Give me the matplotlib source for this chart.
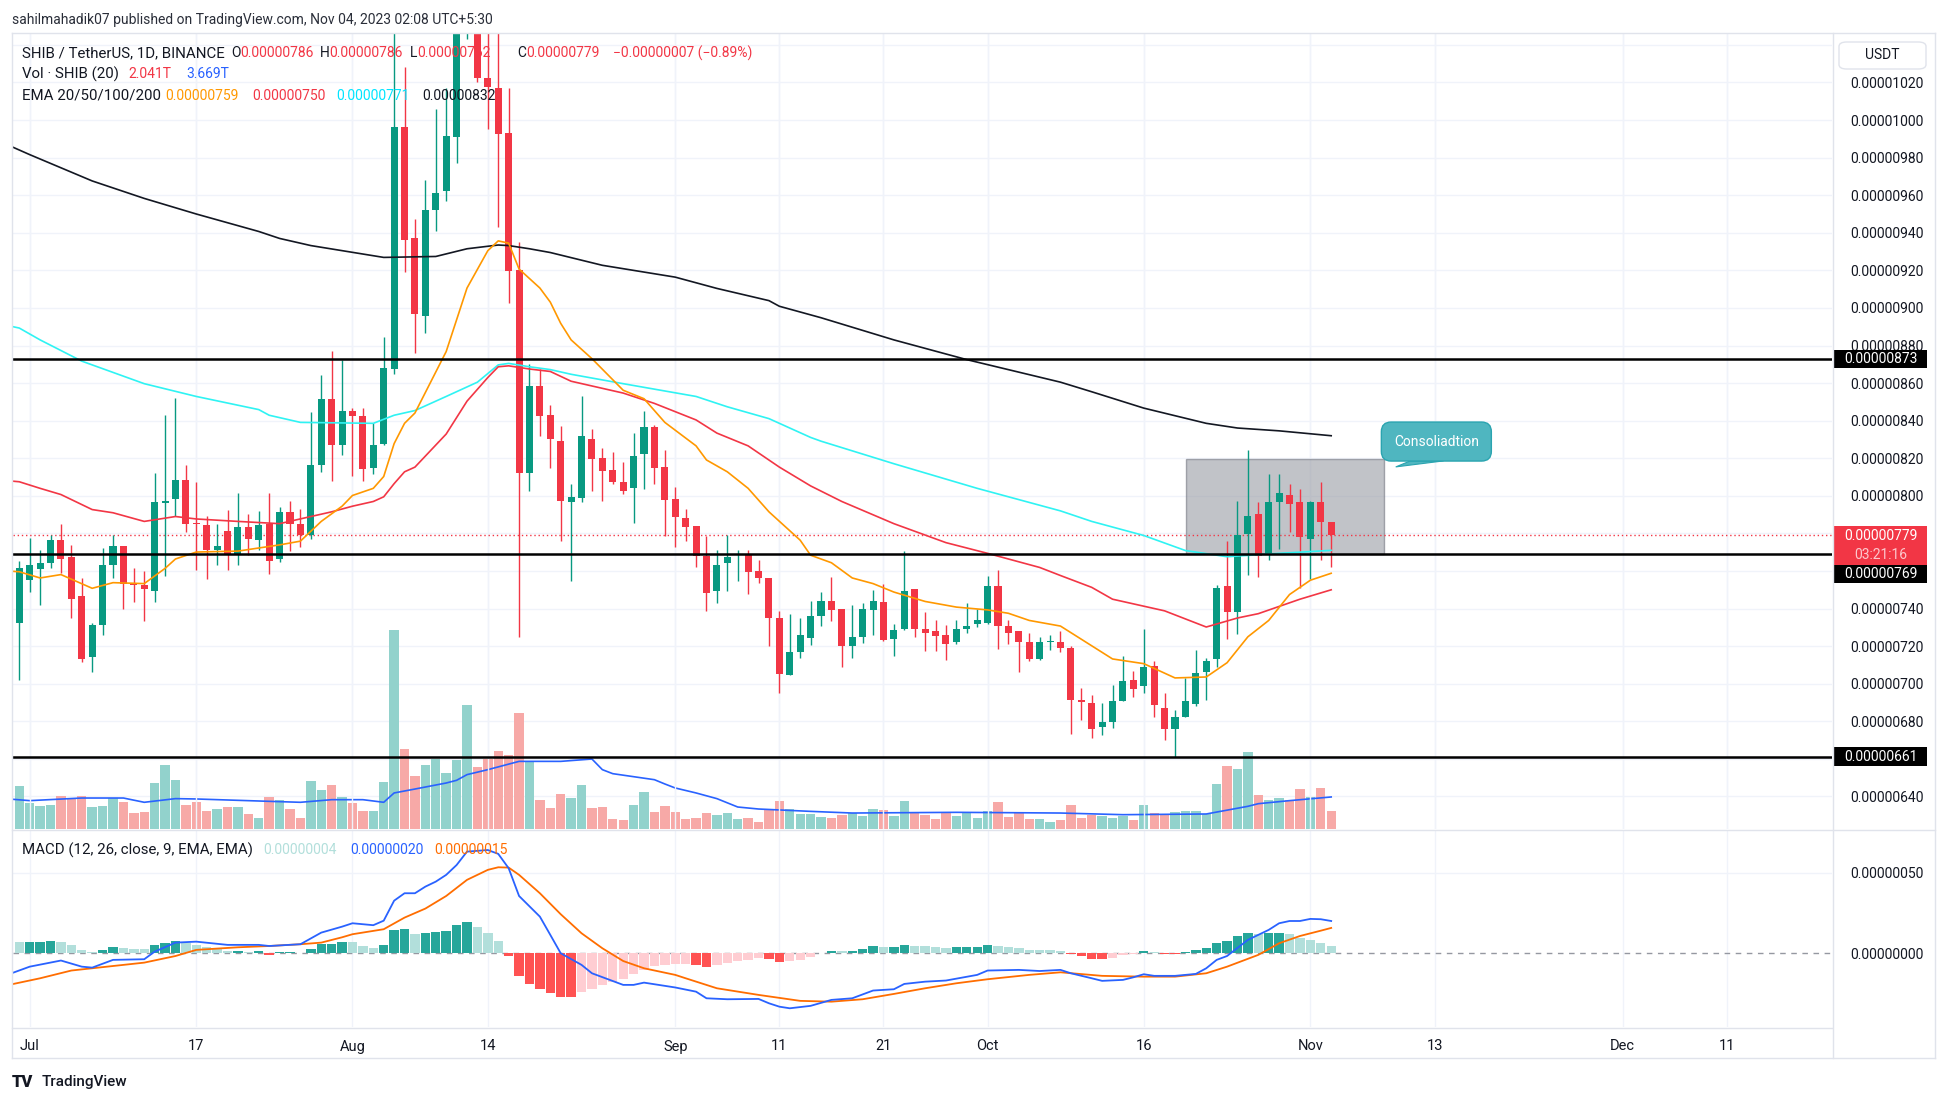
import matplotlib
matplotlib.use('Agg')
import matplotlib.pyplot as plt
import matplotlib.transforms as mtransforms
from matplotlib.patches import Rectangle, FancyBboxPatch, Polygon
from matplotlib.lines import Line2D
import numpy as np
import pandas as pd

plt.rcParams['font.family'] = ['Roboto', 'DejaVu Sans']

# ── Data (prices in units of 1e-8 USDT, volume in trillions) ────────────────
first_day = '2023-06-30'

opens = [732.2, 755.3, 761.0, 764.4, 776.4, 767.4, 746.5, 714.2, 731.2, 763.1,
         773.4, 753.3, 752.3, 749.3, 796.0, 798.2, 808.5, 785.4, 784.4, 771.4,
         781.4, 768.9, 783.4, 776.4, 784.9, 766.4, 791.5, 784.9, 779.4, 816.5,
         851.7, 827.1, 845.4, 842.6, 815.0, 827.6, 867.7, 996.2, 937.0, 895.8,
         952.0, 962.1, 991.2, 1062.0, 1090.0, 1022.3, 1017.3, 993.2, 920.4, 812.0,
         858.7, 842.9, 829.1, 796.5, 799.0, 830.1, 820.1, 813.5, 807.3, 804.0,
         822.1, 836.6, 815.5, 798.5, 788.4, 783.9, 768.1, 749.3, 764.4, 768.4,
         768.4, 759.8, 756.3, 735.0, 704.9, 716.7, 724.5, 736.3, 744.3, 739.8,
         720.2, 724.7, 739.3, 743.3, 724.0, 729.2, 750.6, 729.2, 728.2, 725.7,
         722.2, 729.2, 731.7, 732.5, 751.8, 730.5, 728.2, 722.2, 713.2, 722.0,
         722.2, 719.2, 691.1, 689.6, 677.0, 679.5, 690.6, 702.1, 698.6, 709.7,
         687.1, 676.0, 682.1, 689.1, 706.1, 713.2, 751.8, 738.0, 779.9, 790.5,
         768.9, 796.5, 800.5, 796.5, 776.9, 796.5, 786.0]
highs = [765.4, 777.4, 771.4, 779.4, 784.9, 773.9, 756.3, 732.5, 772.4, 779.4,
         773.4, 761.4, 760.1, 812.0, 843.0, 852.2, 816.5, 807.3, 789.5, 784.9,
         792.5, 801.5, 790.5, 792.0, 801.5, 794.0, 797.5, 793.0, 844.6, 864.2,
         877.3, 872.2, 846.7, 846.7, 838.6, 884.8, 1050.0, 1028.3, 947.5, 968.1,
         1005.7, 1017.3, 1075.0, 1110.0, 1130.0, 1050.0, 1048.0, 1016.8, 935.0, 870.2,
         867.7, 848.4, 837.1, 806.5, 853.4, 835.4, 825.6, 823.6, 817.8, 833.6,
         845.2, 837.6, 824.6, 804.5, 793.2, 783.9, 778.4, 771.4, 779.4, 771.4,
         771.4, 765.9, 756.3, 738.8, 737.3, 735.0, 744.3, 748.8, 756.8, 739.8,
         741.8, 742.8, 749.8, 753.3, 731.7, 770.4, 750.6, 738.3, 733.7, 731.2,
         733.7, 742.8, 739.8, 757.6, 760.6, 733.7, 728.2, 727.2, 724.7, 725.7,
         728.2, 720.2, 697.9, 694.1, 689.6, 699.6, 714.7, 706.6, 729.2, 712.2,
         695.1, 686.1, 703.1, 717.7, 713.7, 752.3, 775.9, 797.5, 824.6, 796.5,
         811.5, 811.5, 806.5, 803.5, 797.5, 807.5, 786.0]
lows = [702.1, 748.8, 742.0, 761.4, 758.8, 735.0, 711.7, 706.0, 726.2, 756.3,
        739.8, 743.3, 733.2, 743.3, 757.6, 789.5, 780.9, 760.3, 755.8, 763.4,
        760.3, 763.4, 768.4, 771.4, 758.3, 764.9, 770.4, 772.9, 776.9, 812.5,
        807.8, 821.6, 810.5, 807.8, 811.5, 827.1, 864.7, 919.4, 875.8, 886.8,
        941.0, 957.1, 977.0, 1043.0, 1020.0, 995.0, 943.0, 902.4, 725.0, 802.5,
        831.6, 815.0, 775.9, 754.6, 796.5, 802.5, 797.5, 806.5, 801.0, 785.4,
        803.5, 806.5, 778.4, 772.6, 775.9, 762.4, 738.8, 743.0, 749.6, 754.8,
        747.8, 753.8, 719.9, 694.9, 704.9, 713.7, 720.7, 730.7, 733.2, 708.7,
        713.7, 721.7, 726.2, 722.5, 714.9, 728.7, 725.0, 717.2, 717.2, 712.9,
        721.2, 727.2, 730.2, 732.0, 718.7, 721.2, 706.2, 712.2, 712.7, 718.2,
        716.7, 673.0, 680.6, 671.0, 672.5, 676.5, 690.6, 693.1, 694.9, 682.1,
        670.0, 661.0, 682.1, 688.1, 691.6, 708.7, 723.7, 726.7, 757.8, 756.8,
        765.9, 771.9, 780.9, 750.8, 755.8, 765.9, 762.0]
closes = [761.4, 763.1, 764.0, 776.4, 766.4, 745.0, 713.2, 731.2, 763.1, 773.4,
          753.1, 752.3, 750.6, 796.5, 797.0, 808.5, 784.9, 784.9, 771.4, 773.4,
          768.4, 783.4, 776.9, 784.4, 765.4, 791.5, 784.9, 779.4, 816.5, 851.7,
          827.1, 845.4, 842.6, 814.5, 827.1, 868.2, 996.2, 936.0, 896.8, 952.0,
          961.1, 991.7, 1062.0, 1090.0, 1022.3, 1017.8, 992.7, 919.9, 812.0, 858.7,
          842.6, 830.1, 797.2, 799.5, 831.6, 819.8, 813.0, 807.3, 802.7, 821.1,
          836.6, 815.0, 798.0, 788.9, 783.4, 768.1, 748.3, 763.1, 767.6, 768.9,
          759.6, 756.3, 735.0, 705.4, 716.7, 725.7, 736.3, 744.3, 739.3, 720.2,
          724.7, 739.8, 744.3, 723.2, 728.5, 749.3, 729.2, 727.2, 725.5, 721.2,
          729.2, 730.5, 733.7, 751.8, 730.5, 727.2, 722.2, 713.2, 722.2, 722.4,
          719.2, 691.6, 690.1, 676.0, 679.5, 690.6, 701.6, 697.1, 708.7, 688.6,
          676.0, 682.1, 690.6, 705.6, 712.2, 750.8, 738.0, 779.4, 789.5, 767.9,
          796.5, 801.5, 795.5, 778.2, 796.5, 786.0, 779.0]
volume = [4.97, 3.02, 2.67, 2.79, 3.82, 3.44, 3.82, 2.56, 2.67, 3.55,
          3.13, 1.87, 1.99, 5.31, 7.37, 5.65, 2.79, 3.13, 2.10, 2.33,
          2.56, 2.56, 1.76, 1.30, 3.71, 3.36, 2.33, 1.30, 5.54, 4.51,
          5.08, 3.71, 3.02, 2.10, 2.10, 5.42, 22.84, 9.21, 6.11, 7.37,
          8.06, 6.46, 7.95, 14.25, 7.14, 8.06, 8.98, 8.52, 13.33, 7.83,
          3.36, 2.44, 4.05, 3.59, 5.08, 2.44, 2.56, 1.18, 1.07, 2.79,
          4.28, 1.99, 2.67, 1.99, 1.18, 1.30, 1.87, 1.64, 1.87, 1.18,
          1.30, 0.84, 2.33, 3.25, 2.33, 1.76, 1.76, 1.41, 1.30, 1.64,
          1.87, 1.53, 2.33, 2.22, 1.53, 3.25, 1.87, 1.64, 1.18, 1.87,
          1.53, 1.87, 1.30, 2.10, 3.13, 1.41, 1.80, 1.18, 1.18, 0.84,
          1.07, 2.79, 1.30, 1.64, 1.53, 1.30, 1.53, 1.07, 2.79, 1.87,
          1.64, 1.99, 2.10, 2.10, 1.76, 5.20, 7.26, 6.91, 8.86, 3.93,
          3.36, 3.59, 3.36, 4.62, 3.71, 4.74, 2.04]
macd_hist = [7.0, 7.1, 7.2, 7.6, 7.0, 5.2, 2.1, 0.8, 2.1, 3.9,
             3.3, 2.7, 2.6, 5.2, 6.4, 7.6, 6.4, 5.2, 3.9, 3.3,
             1.4, 1.6, 0.8, 1.4, -0.8, 0.8, 0.9, 0.2, 2.7, 5.8,
             6.0, 7.0, 6.9, 4.5, 3.3, 5.2, 14.5, 15.1, 12.0, 12.6,
             13.2, 13.8, 17.6, 19.4, 16.3, 12.6, 7.6, -1.4, -13.8, -18.8,
             -21.9, -24.4, -26.9, -27.0, -23.8, -21.9, -19.4, -17.6, -15.7, -12.6,
             -10.1, -7.6, -7.0, -6.9, -6.8, -7.1, -8.3, -7.0, -5.8, -4.5,
             -3.9, -2.7, -3.3, -5.2, -5.1, -3.9, -2.1, 0.4, 1.4, 1.3,
             1.5, 2.7, 4.5, 3.9, 4.0, 5.2, 4.5, 4.4, 3.9, 3.3,
             3.9, 4.0, 4.1, 5.2, 4.5, 3.9, 3.1, 2.1, 2.0, 1.9,
             1.4, -0.6, -1.9, -3.3, -3.4, -2.7, -1.2, -0.6, 1.4, 0.8,
             -0.2, -0.3, 0.8, 2.1, 3.3, 6.4, 7.6, 10.7, 12.6, 12.0,
             12.6, 12.7, 12.0, 9.5, 8.3, 6.4, 4.5]

# indicator lines read at selected candles (candle number, 1 = Jun 30)
volma_idx = [0, 2, 7, 11, 13, 16, 18, 25, 28, 31, 34, 36, 37, 39, 42, 43, 44, 46, 49, 53,
             56, 57, 58, 62, 63, 64, 66, 68, 70, 72, 77, 81, 91, 101, 107, 115, 119, 120, 123, 127]
volma_val = [3.44, 3.25, 3.55, 3.55, 3.06, 3.48, 3.44, 3.17, 3.06, 3.36, 3.36, 3.06, 4.13, 4.58,
             5.27, 5.58, 6.23, 6.80, 7.75, 7.75, 8.02, 6.80, 6.34, 5.65, 5.16, 4.70, 4.13, 3.48,
             2.52, 2.29, 2.02, 1.83, 1.91, 1.83, 1.64, 1.72, 2.60, 2.90, 3.25, 3.67]

ema20_idx = [0, 1, 3, 5, 8, 10, 13, 15, 16, 18, 22, 26, 28, 30, 32, 33, 35, 36, 37, 38,
             39, 42, 44, 46, 47, 48, 49, 51, 52, 53, 54, 56, 59, 61, 63, 66, 67, 69, 71, 73,
             76, 77, 79, 81, 83, 85, 88, 91, 94, 96, 98, 101, 103, 106, 109, 112, 115, 117, 119, 121,
             123, 125, 127]
ema20_val = [760, 759.6, 756.3, 758.1, 750.8, 753.8, 753.3, 761.4, 766.4, 770.1,
             770.6, 773.9, 775.9, 786.4, 794.5, 800.2, 804.0, 810.3, 827.8, 838.6,
             844.1, 876.8, 910.6, 930.5, 935.7, 934.5, 920.7, 910.6, 903.1, 891.8,
             883.0, 873.0, 856.2, 851.7, 839.1, 826.6, 819.1, 812.8, 804.0, 791.5,
             776.4, 768.4, 764.4, 756.3, 753.3, 748.8, 743.8, 740.8, 739.3, 737.5,
             733.7, 730.7, 723.7, 713.2, 710.7, 703.1, 703.6, 711.2, 725.0, 733.7,
             747.5, 755.1, 758.8]
ema50_idx = [0, 1, 3, 5, 8, 10, 13, 16, 18, 22, 26, 29, 31, 33, 35, 36, 37, 38, 39, 42,
             44, 46, 47, 48, 50, 52, 54, 59, 62, 66, 68, 71, 74, 77, 80, 85, 90, 94, 99, 101,
             104, 106, 111, 115, 118, 120, 124, 127]
ema50_val = [808, 807.5, 804.0, 800.7, 792.7, 791.0, 786.4, 789.0, 787.7, 786.4,
             785.2, 789.0, 791.5, 794.5, 797.0, 799.5, 806.5, 812.8, 815.3, 832.9,
             850.4, 863.0, 868.7, 869.2, 867.5, 866.2, 861.0, 854.7, 849.2, 840.4,
             833.4, 826.6, 815.3, 805.3, 797.0, 785.2, 775.1, 769.4, 761.9, 757.6,
             751.3, 745.0, 738.8, 730.2, 735.0, 737.3, 745.0, 750.0]
ema100_idx = [0, 1, 3, 7, 13, 18, 24, 25, 28, 35, 37, 39, 42, 45, 47, 48, 50, 52, 54, 59,
              66, 69, 73, 77, 78, 85, 93, 101, 104, 109, 113, 117, 122, 127]
ema100_val = [890.5, 889.3, 883.0, 871.7, 859.7, 852.9, 845.9, 842.9, 839.1, 838.6,
              842.9, 845.4, 852.9, 860.5, 869.7, 870.5, 868.7, 867.2, 864.7, 859.7,
              852.9, 847.4, 841.1, 831.1, 829.1, 817.1, 804.0, 792.0, 786.4, 778.9,
              770.9, 767.6, 769.4, 771.0]
ema200_idx = [0, 2, 8, 13, 18, 24, 26, 29, 36, 41, 44, 47, 48, 50, 52, 57, 64, 68, 73, 74,
              78, 85, 92, 101, 104, 109, 115, 118, 122, 127]
ema200_val = [986.5, 981.6, 967.6, 958.3, 950.0, 940.7, 937.0, 933.2, 926.9, 927.4,
              931.5, 933.5, 933.2, 931.5, 929.5, 922.7, 916.4, 910.4, 903.9, 900.9,
              894.8, 883.0, 872.5, 860.5, 855.4, 846.7, 838.6, 836.1, 834.6, 832.0]

macd_idx = [0, 2, 5, 7, 8, 10, 13, 14, 16, 18, 21, 24, 25, 28, 30, 32, 33, 35, 36, 37,
            38, 39, 40, 41, 42, 43, 44, 46, 47, 48, 49, 51, 52, 53, 55, 56, 59, 60, 61, 64,
            66, 67, 69, 72, 73, 74, 75, 77, 79, 81, 83, 85, 86, 88, 90, 93, 94, 97, 99, 101,
            102, 104, 105, 107, 108, 109, 110, 112, 114, 115, 116, 117, 119, 120, 121, 122, 123, 124, 125, 126,
            127]
macd_val = [-13.0, -8.3, -4.5, -8.3, -8.9, -4.1, -3.7, 1.0, 6.6, 7.2,
            5.2, 5.2, 4.5, 5.6, 12.8, 16.5, 18.6, 17.4, 20.2, 32.6,
            37.2, 37.2, 41.3, 44.4, 48.6, 54.7, 63.0, 64.0, 61.6, 52.7,
            35.5, 22.7, 11.4, 0.0, -7.2, -12.4, -19.6, -19.6, -18.2, -21.2,
            -23.8, -27.9, -28.5, -28.3, -31.0, -33.1, -34.1, -32.6, -28.9, -27.9,
            -23.1, -22.3, -19.0, -17.6, -16.9, -13.4, -10.7, -10.3, -11.0, -10.3,
            -12.4, -15.5, -17.1, -16.5, -14.9, -13.0, -14.0, -14.0, -12.8, -9.3,
            -4.1, -1.7, 8.3, 11.4, 14.5, 18.6, 20.0, 20.0, 21.3, 21.1,
            20.0]
signal_idx = [0, 3, 6, 8, 13, 16, 18, 22, 25, 28, 30, 32, 33, 36, 38, 40, 42, 44, 46, 47,
              48, 49, 51, 53, 55, 57, 59, 61, 64, 65, 68, 72, 76, 79, 82, 85, 88, 91, 94, 98,
              101, 105, 109, 112, 115, 117, 120, 122, 124, 126, 127]
signal_val = [-19.6, -15.5, -10.7, -9.3, -5.8, -1.7, 2.1, 3.7, 4.5, 5.6,
              6.6, 9.9, 11.8, 14.9, 22.1, 27.7, 35.5, 45.5, 51.7, 53.3,
              53.1, 48.6, 37.2, 24.2, 12.4, 3.1, -4.8, -9.3, -13.4, -15.5,
              -21.7, -25.8, -29.5, -30.0, -28.5, -25.2, -21.7, -18.6, -16.1, -13.4,
              -11.8, -14.0, -14.5, -14.5, -12.4, -8.3, -1.0, 6.2, 10.7, 14.0,
              15.7]

levels = [873, 769, 661]
last_price = 779
box_span = (113.1, 132.1)       # consolidation zone, candle numbers
box_prices = (769, 819.6)

price_ticks = [640, 680, 700, 720, 740, 800, 820, 840, 860, 880, 900, 920, 940, 960, 980, 1000, 1020]

tick_dates = ['2023-07-01', '2023-07-17', '2023-08-01', '2023-08-14', '2023-09-01', '2023-09-11',
              '2023-09-21', '2023-10-01', '2023-10-16', '2023-11-01', '2023-11-13', '2023-12-01',
              '2023-12-11']
tick_labels = ['Jul', '17', 'Aug', '14', 'Sep', '11', '21', 'Oct', '16', 'Nov', '13', 'Dec', '11']

# ── Figure / panes ───────────────────────────────────────────────────────────
W, H = 1946, 1104
fig = plt.figure(figsize=(W / 100, H / 100), dpi=100)
fig.patch.set_facecolor('white')
TXT = '#131722'
GRID = '#f0f3fa'
BORDER = '#e0e3eb'
UP, DOWN = '#089981', '#f23645'


def rect(x0, y0, x1, y1):
    return [x0 / W, 1 - y1 / H, (x1 - x0) / W, (y1 - y0) / H]


def fx(x):
    return x / W


def fy(y):
    return 1 - y / H


PL, PR = 13, 1832
ax_vol = fig.add_axes(rect(PL, 34, PR, 829))
ax = fig.add_axes(rect(PL, 34, PR, 829), sharex=ax_vol)
ax_m = fig.add_axes(rect(PL, 830, PR, 1027), sharex=ax_vol)
ax.set_facecolor('none')

idx = np.arange(1, len(opens) + 1)
o, h, l, c = map(np.array, (opens, highs, lows, closes))
up = c >= o
ccol = np.where(up, UP, DOWN)

start = pd.Timestamp(first_day) - pd.Timedelta(days=1)
tick_pos = [(pd.Timestamp(d) - start).days for d in tick_dates]

for a in (ax_vol, ax, ax_m):
    a.set_xlim(0.395, 175.1)
    for s in a.spines.values():
        s.set_visible(False)
    a.tick_params(length=0)
    for t in tick_pos:
        a.axvline(t, color=GRID, lw=1, zorder=0)

# volume
ax_vol.set_ylim(0, 91.1)
ax_vol.bar(idx, volume, width=0.9, color=np.where(up, '#92d2cc', '#f7a9a7'), lw=0, zorder=1)
ax_vol.plot(volma_idx, volma_val, color='#2962ff', lw=1.2, zorder=2)
ax_vol.set_yticks([])
ax_vol.tick_params(labelbottom=False)
for p in range(640, 1041, 20):
    ax_vol.axhline((p - 622.7) / (1045.8 - 622.7) * 91.1, color=GRID, lw=1, zorder=0)

# price
ax.set_ylim(622.7, 1045.8)
ax.add_patch(Rectangle((box_span[0], box_prices[0]), box_span[1] - box_span[0],
                       box_prices[1] - box_prices[0], fc='#9598a1', alpha=0.58,
                       ec='#6f727c', lw=1, zorder=1.5))
ax.axhline(last_price, color=DOWN, lw=1, ls=(0, (1, 2)), zorder=2)
ax.vlines(idx, l, h, colors=ccol, lw=1.0, zorder=3)
ax.bar(idx, np.maximum(np.abs(c - o), 0.6), bottom=np.minimum(o, c), width=0.68,
       color=ccol, lw=0, zorder=4)
ax.plot(ema200_idx, ema200_val, color='#131722', lw=1.2, zorder=5)
ax.plot(ema100_idx, ema100_val, color='#2ff3f3', lw=1.2, zorder=5)
ax.plot(ema50_idx, ema50_val, color='#f23645', lw=1.2, zorder=5)
ax.plot(ema20_idx, ema20_val, color='#ff9800', lw=1.2, zorder=5)
for lv in levels:
    ax.axhline(lv, color='black', lw=1.8, zorder=6)

ax.yaxis.tick_right()
ax.set_yticks(price_ticks)
ax.set_yticklabels([f'{v / 1e8:.8f}' for v in price_ticks])
ax.tick_params(axis='y', pad=13, labelsize=10, labelcolor=TXT)
ax.tick_params(labelbottom=False)

# callout
ax.text(137.1, 828.9, 'Consoliadtion', color='white', fontsize=10, ha='center', va='center',
        zorder=8, clip_on=False,
        bbox=dict(boxstyle='round,pad=0.9,rounding_size=0.7', fc='#4fb6c0', ec='#2aa4b0', lw=1))
ax.add_patch(Polygon([(134.6, 818.6), (137.8, 818.6), (133.2, 815.4)], closed=True,
                     fc='#4fb6c0', ec='#2aa4b0', lw=0.8, zorder=7, clip_on=False))

# price-axis boxes
tb = mtransforms.blended_transform_factory(fig.transFigure, ax.transData)


def axis_box(p_lo, p_hi, fc):
    ax.add_patch(Rectangle((fx(1833), p_lo), 94 / W, p_hi - p_lo, transform=tb, fc=fc,
                           ec='none', clip_on=False, zorder=10))


def axis_text(p, s, color='white'):
    ax.text(fx(1881), p, s, transform=tb, ha='center', va='center', color=color,
            fontsize=10, clip_on=False, zorder=11)


axis_box(868.2, 877.8, 'black')
axis_text(873, f'{873 / 1e8:.8f}')
axis_box(656.2, 666.2, 'black')
axis_text(661.2, f'{661 / 1e8:.8f}')
axis_box(763.2, 784.0, DOWN)
axis_text(778.6, f'{last_price / 1e8:.8f}')
axis_text(768.4, '03:21:16', color='#fcc8cd')
axis_box(753.6, 763.2, 'black')
axis_text(758.4, f'{769 / 1e8:.8f}')

# MACD
ax_m.set_ylim(-45.7, 76.4)
hcol = []
prev = 7.5
for v in macd_hist:
    if v >= 0:
        hcol.append('#26a69a' if v > prev else '#b2dfdb')
    else:
        hcol.append('#ff5252' if v < prev else '#ffcdd2')
    prev = v
ax_m.axhline(50, color=GRID, lw=1, zorder=0)
ax_m.axhline(0, color='#9598a1', lw=1, ls=(0, (4, 4)), zorder=0.5)
ax_m.bar(idx, macd_hist, width=0.9, color=hcol, lw=0, zorder=1)
ax_m.plot(macd_idx, macd_val, color='#2962ff', lw=1.3, zorder=3)
ax_m.plot(signal_idx, signal_val, color='#ff6d00', lw=1.3, zorder=2)
ax_m.yaxis.tick_right()
ax_m.set_yticks([0, 50])
ax_m.set_yticklabels(['0.00000000', '0.00000050'])
ax_m.tick_params(axis='y', pad=13, labelsize=10, labelcolor=TXT)
ax_m.set_xticks(tick_pos)
ax_m.set_xticklabels(tick_labels)
ax_m.tick_params(axis='x', pad=9, labelsize=10.5, labelcolor=TXT)

# ── Frame lines ──────────────────────────────────────────────────────────────
def hline_px(y, x0, x1, color=BORDER, lw=1):
    fig.add_artist(Line2D([fx(x0), fx(x1)], [fy(y), fy(y)], color=color, lw=lw))


def vline_px(x, y0, y1, color=BORDER, lw=1):
    fig.add_artist(Line2D([fx(x), fx(x)], [fy(y0), fy(y1)], color=color, lw=lw))


hline_px(33, 12, 1935)
hline_px(1058, 12, 1935)
vline_px(12, 33, 1058)
vline_px(1935, 33, 1058)
hline_px(829.5, 12, 1935)
hline_px(1027.5, 12, 1832)
vline_px(1832.5, 33, 1058)

fig.add_artist(FancyBboxPatch((fx(1839), fy(69)), 87 / W, 27 / H, transform=fig.transFigure,
                              boxstyle='round,pad=0,rounding_size=0.004', fc='white',
                              ec=BORDER, lw=1))
fig.text(fx(1882), fy(55), 'USDT', ha='center', va='center', fontsize=10, color=TXT)

# ── Legend texts ─────────────────────────────────────────────────────────────
rend = fig.canvas.get_renderer()


def runs(x, y, parts, size=10.0):
    for s, col in parts:
        t = fig.text(fx(x), fy(y), s, color=col, fontsize=size, ha='left', va='center')
        x += t.get_window_extent(rend).width


fig.text(fx(12), fy(20), 'sahilmahadik07 published on TradingView.com, Nov 04, 2023 02:08 UTC+5:30',
         fontsize=10, color='#2a2e39', ha='left', va='center')

runs(22, 53, [('SHIB / TetherUS, 1D, BINANCE', TXT)], size=10.8)
runs(231, 53, [('O', TXT), ('0.00000786', DOWN)])
runs(320, 53, [('H', TXT), ('0.00000786', DOWN)])
runs(410, 53, [('L', TXT), ('0.00000762', DOWN)])
runs(517, 53, [('C', TXT), ('0.00000779', DOWN)])
runs(613, 53, [('\u22120.00000007 (\u22120.89%)', DOWN)])

runs(22, 74.5, [('Vol \u00b7 SHIB (20)', TXT)], size=10.8)
runs(128, 74.5, [('2.041T', DOWN)])
runs(186, 74.5, [('3.669T', '#2962ff')])

runs(22, 95.6, [('EMA 20/50/100/200', TXT)], size=10.8)
runs(165, 95.6, [('0.00000759', '#ff9800')])
runs(252, 95.6, [('0.00000750', DOWN)])
runs(336, 95.6, [('0.00000771', '#00e5ff')])
runs(422, 95.6, [('0.00000832', TXT)])

runs(22, 850, [('MACD (12, 26, close, 9, EMA, EMA)', TXT)], size=10.8)
runs(263, 850, [('0.00000004', '#b2dfdb')])
runs(350, 850, [('0.00000020', '#2962ff')])
runs(434, 850, [('0.00000015', '#ff6d00')])

fig.text(fx(12), fy(1082), 'TV', fontsize=12, fontweight='heavy', color=TXT, ha='left', va='center')
fig.text(fx(42), fy(1082), 'TradingView', fontsize=11, fontweight='medium', color=TXT,
         ha='left', va='center')

fig.savefig('out.png', dpi=100, facecolor='white')
